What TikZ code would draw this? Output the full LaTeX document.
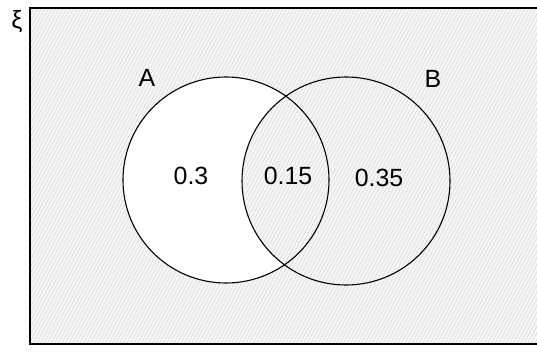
\documentclass[tikz,border=0pt]{standalone}
\usepackage{fontspec}
\setmainfont{Liberation Sans}
\usetikzlibrary{patterns.meta}

\tikzset{
  shaded/.style={pattern={Lines[angle=62,distance=3.2pt,line width=0.35pt]},pattern color=gray!40},
  bg/.style={fill=gray!7},
  setline/.style={line width=1.1pt},
  lbl/.style={font=\fontsize{25}{28}\selectfont,inner sep=0pt},
}

\begin{document}
\begin{tikzpicture}[x=1bp,y=1bp]
    \useasboundingbox (0,0) rectangle (537,351);
    \clip (0,0) rectangle (537,351);
    \coordinate (cA) at (226,171);
    \coordinate (cB) at (346,170);

    % shading: everything except A only
    \fill[bg] (30,7) rectangle (545,343);
    \fill[shaded] (30,7) rectangle (545,343);
    \fill[white] (cA) circle (103);
    \begin{scope}
        \clip (cA) circle (103);
        \fill[bg] (cB) circle (104);
        \fill[shaded] (cB) circle (104);
    \end{scope}

    % universal set and the two sets
    \draw[setline] (545,343) -- (30,343) -- (30,7) -- (545,7);
    \draw[setline] (cA) circle (103);
    \draw[setline] (cB) circle (104);

    \node[lbl] (xi) at (17,329) {ξ};
    \node[lbl] (labA) at (147,273) {A};
    \node[lbl] (labB) at (433,272) {B};
    \node[lbl] (pA) at (191,175) {0.3};
    \node[lbl] (pAB) at (288,175) {0.15};
    \node[lbl] (pB) at (379,173) {0.35};
\end{tikzpicture}
\end{document}
